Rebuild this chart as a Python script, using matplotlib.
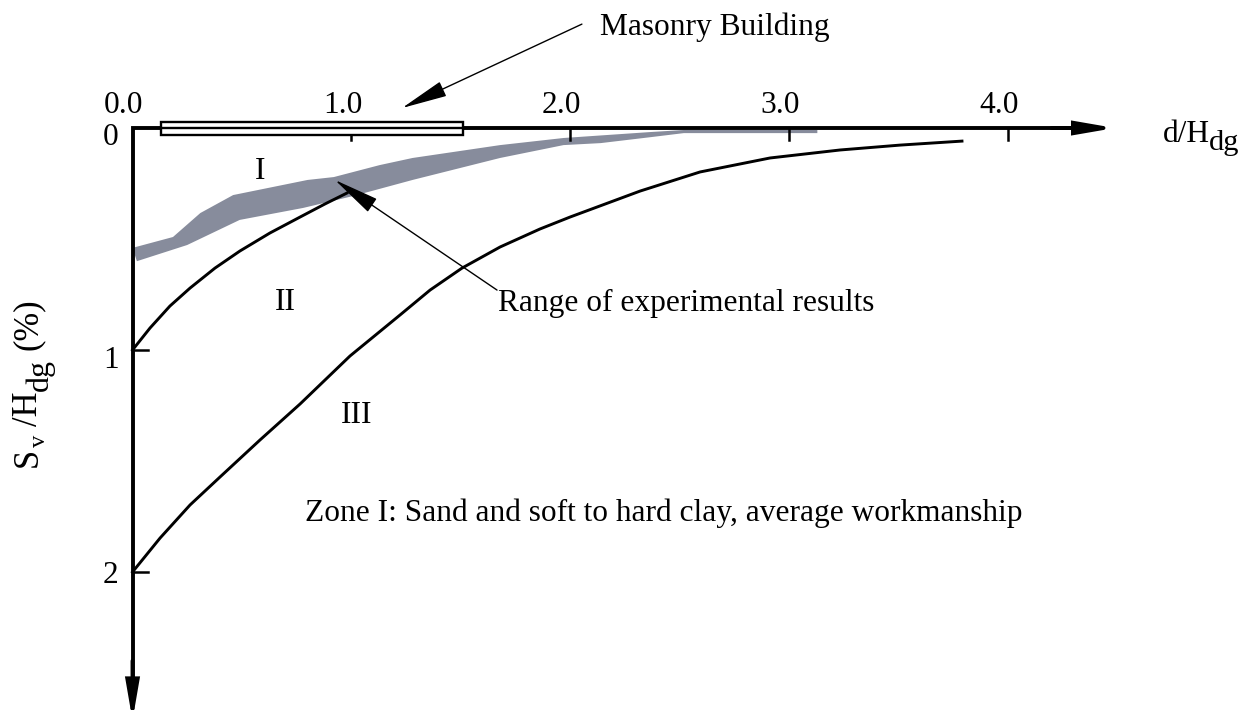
import numpy as np
import matplotlib
matplotlib.use("Agg")
import matplotlib.pyplot as plt
from matplotlib.patches import Rectangle

plt.rcParams["font.family"] = ["Liberation Serif", "DejaVu Serif"]

# Boundary between zones I and II (d/H_dg, S_v/H_dg %)
curve2_x = [0.0, 0.080, 0.171, 0.263, 0.377, 0.491, 0.628, 0.766, 0.880, 0.980]
curve2_y = [1.0, 0.901, 0.802, 0.721, 0.631, 0.554, 0.473, 0.401, 0.342, 0.293]

# Boundary between zones II and III
curve3_x = [0.0, 0.126, 0.263, 0.40, 0.583, 0.766, 0.994, 1.223, 1.36, 1.506,
            1.68, 1.862, 2.0, 2.32, 2.594, 2.914, 3.234, 3.508, 3.791]
curve3_y = [2.0, 1.847, 1.698, 1.572, 1.405, 1.243, 1.027, 0.842, 0.730, 0.631,
            0.536, 0.455, 0.401, 0.284, 0.198, 0.135, 0.099, 0.077, 0.059]

# Range of experimental results (band edges)
band_top_x = [0.0, 0.185, 0.31, 0.46, 0.80, 0.92, 1.13, 1.28, 1.68, 1.97,
              2.37, 2.52, 3.13]
band_top_y = [0.54, 0.491, 0.383, 0.302, 0.234, 0.221, 0.167, 0.135, 0.077,
              0.045, 0.018, 0.009, 0.009]
band_bot_x = [0.02, 0.25, 0.49, 0.78, 1.01, 1.28, 1.68, 1.97, 2.14, 2.37,
              2.52, 3.13]
band_bot_y = [0.60, 0.527, 0.414, 0.36, 0.306, 0.234, 0.135, 0.077, 0.068,
              0.041, 0.023, 0.023]

# Extent of the masonry building along d/H_dg
building_x = [0.13, 1.51]

x_ticks = [1.0, 2.0, 3.0, 4.0]
x_tick_labels = ["0.0", "1.0", "2.0", "3.0", "4.0"]
y_ticks = [1.0, 2.0]
y_tick_labels = ["0", "1", "2"]

FS = 22.6
W, H = 1254, 710
fig = plt.figure(figsize=(W / 100, H / 100), dpi=100)
ax = fig.add_axes([0, 0, 1, 1])
ax.set_xlim(-0.6056, 5.1257)
ax.set_ylim(2.6216, -0.5766)
ax.axis("off")

# Axes drawn as arrows from the origin
AX_LW = 2.8
ax.plot([0, 0, 4.3], [2.5, 0, 0], color="black", lw=AX_LW,
        solid_joinstyle="miter", solid_capstyle="butt", zorder=6)
arrow_axis = dict(arrowstyle="-|>,head_length=2.2,head_width=0.38",
                  mutation_scale=10, lw=AX_LW, color="black",
                  shrinkA=0, shrinkB=0, joinstyle="miter")
ax.annotate("", xy=(4.49, 0), xytext=(4.2, 0), arrowprops=arrow_axis,
            zorder=6, annotation_clip=False)
ax.annotate("", xy=(0, 2.668), xytext=(0, 2.4), arrowprops=arrow_axis,
            zorder=6, annotation_clip=False)

# Ticks
for t in x_ticks:
    ax.plot([t, t], [0, 0.054], color="black", lw=1.8, zorder=5)
for t in y_ticks:
    ax.plot([0, 0.07], [t, t], color="black", lw=1.8, zorder=5)

# Tick labels
x_label_pos = [0.0, 1.0, 2.0, 3.0, 4.0]
for t, lab in zip(x_label_pos, x_tick_labels):
    ax.text(t - 0.04, -0.0676, lab, ha="center", va="baseline", fontsize=FS)
y_label_pos = [(0.0, 0.077), (1.0, 1.08), (2.0, 2.05)]
for (t, yb), lab in zip(y_label_pos, y_tick_labels):
    ax.text(-0.10, yb, lab, ha="center", va="baseline", fontsize=FS)

# Masonry building footprint
ax.add_patch(Rectangle((building_x[0], -0.027), building_x[1] - building_x[0],
                       0.059, facecolor="white", edgecolor="black", lw=1.7,
                       zorder=7))
ax.plot(building_x, [0, 0], color="black", lw=1.7, zorder=8)

# Experimental band
bx = np.concatenate([band_top_x, band_bot_x[::-1]])
by = np.concatenate([band_top_y, band_bot_y[::-1]])
ax.fill(bx, by, color="#878c9c", lw=0, zorder=2)

# Zone boundaries
ax.plot(curve2_x, curve2_y, color="black", lw=2.1, zorder=3,
        solid_joinstyle="round")
ax.plot(curve3_x, curve3_y, color="black", lw=2.1, zorder=3,
        solid_joinstyle="round")

# Zone numerals
ax.text(0.584, 0.23, "I", ha="center", va="baseline", fontsize=FS)
ax.text(0.697, 0.82, "II", ha="center", va="baseline", fontsize=FS)
ax.text(1.026, 1.329, "III", ha="center", va="baseline", fontsize=FS)

# Annotations
pointer = dict(arrowstyle="-|>,head_length=2.9,head_width=0.5",
               mutation_scale=10, lw=1.0, color="black",
               shrinkA=0, shrinkB=0)
ax.annotate("", xy=(1.232, -0.090), xytext=(2.054, -0.468),
            arrowprops=pointer, zorder=9)
ax.text(2.137, -0.419, "Masonry Building", ha="left", va="baseline",
        fontsize=FS)

ax.annotate("", xy=(0.925, 0.234), xytext=(1.666, 0.73),
            arrowprops=pointer, zorder=9)
ax.text(1.670, 0.824, "Range of experimental results", ha="left",
        va="baseline", fontsize=FS)

ax.text(0.788, 1.770, "Zone I: Sand and soft to hard clay, average workmanship",
        ha="left", va="baseline", fontsize=FS)

# Horizontal axis title
ax.text(4.71, 0.063, "d/H", ha="left", va="baseline", fontsize=FS)
ax.text(4.918, 0.099, "dg", ha="left", va="baseline", fontsize=FS * 0.97)

# Vertical axis title, built piece by piece (reads bottom to top)
renderer = fig.canvas.get_renderer()
pieces = [  # text, size factor, baseline x (px), gap before (px)
    ("S", 1.1, 37, 0),
    ("v", 0.78, 45, 1),
    ("/H", 1.1, 37, 9),
    ("dg", 1.02, 48, 0),
    ("(%)", 1.1, 37, 9),
]
cur = 467.0
for s, f, xb, gap in pieces:
    cur -= gap
    t = ax.text(xb / W, 1 - cur / H, s, rotation=90, rotation_mode="anchor",
                ha="left", va="baseline", fontsize=FS * f,
                transform=ax.transAxes)
    cur -= t.get_window_extent(renderer).height

fig.savefig("out.png", dpi=100)
